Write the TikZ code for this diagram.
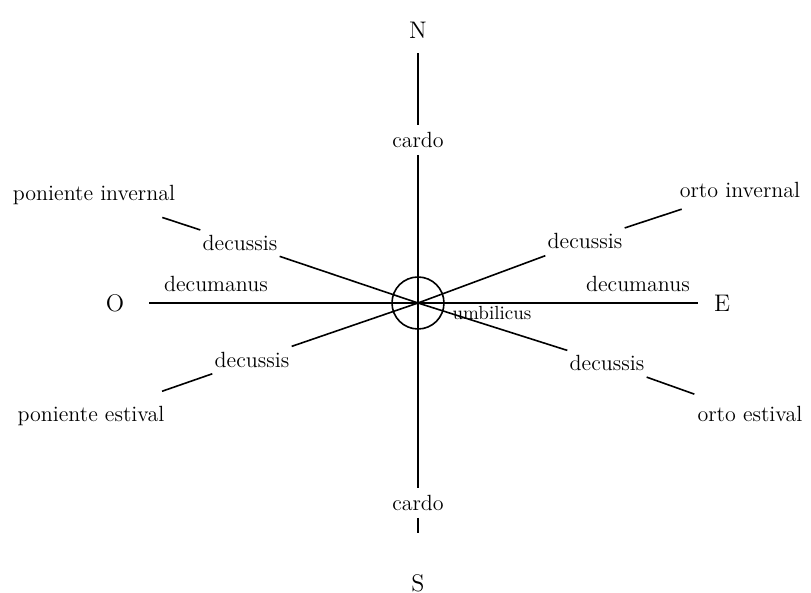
\documentclass[tikz,border=0pt]{standalone}
\tikzset{
  lbl/.style={font=\fontsize{11}{13}\selectfont},
  pole/.style={font=\fontsize{12}{14}\selectfont},
  dec/.style={lbl,minimum height=16pt,inner xsep=1pt,inner ysep=0pt},
  line/.style={line width=0.8pt},
  leader/.style={line,shorten <=9pt}
}
\begin{document}
\begin{tikzpicture}[x=0.5pt,y=0.5pt]
\useasboundingbox (-418,-290) rectangle (393,303);
\node[draw,circle,line,minimum size=26pt,inner sep=0pt] (u) at (0,0) {};
\node[pole] (n) at (0,273) {N};
\node[pole] (s) at (0,-280) {S};
\node[pole] (o) at (-303,0) {O};
\node[pole] (e) at (304,0) {E};
\node[lbl] (cn) at (0,163) {cardo};
\node[lbl] (cs) at (0,-200) {cardo};
\node[lbl] (dw) at (-202,19) {decumanus};
\node[lbl] (de) at (220,19) {decumanus};
\node[font=\fontsize{9.5}{11}\selectfont] (ub) at (74,-10) {umbilicus};
\node[lbl] (pi) at (-324,108) {poniente invernal};
\node[lbl] (pe) at (-327,-113) {poniente estival};
\node[lbl] (oi) at (322,113) {orto invernal};
\node[lbl] (oe) at (332,-111) {orto estival};
\node[dec] (d1) at (-178,60) {decussis};
\node[dec] (d2) at (-166,-57) {decussis};
\node[dec] (d3) at (167,62) {decussis};
\node[dec] (d4) at (189,-60) {decussis};
\draw[line,shorten <=4pt] (n) -- (cn);
\draw[line] (cn) -- (cs);
\draw[line,shorten >=17pt] (cs) -- (s);
\draw[line,shorten <=9pt,shorten >=4.5pt] (o) -- (e);
\draw[leader] (pi) -- (d1);
\draw[leader,shorten <=12pt] (pe) -- (d2);
\draw[leader,shorten <=7pt] (oi) -- (d3);
\draw[leader,shorten <=7.5pt] (oe) -- (d4);
\draw[line] (d1) -- (u.center);
\draw[line] (d2) -- (u.center);
\draw[line] (d3) -- (u.center);
\draw[line] (d4) -- (u.center);
\end{tikzpicture}
\end{document}
